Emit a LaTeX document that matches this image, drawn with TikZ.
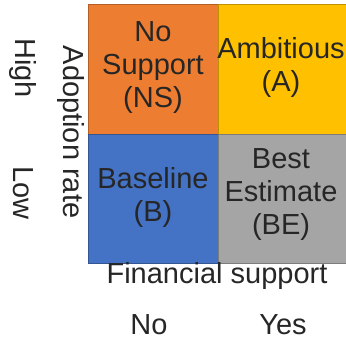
\documentclass[tikz,border=0pt]{standalone}
\usepackage{fontspec}
\setmainfont{Liberation Sans}
\usetikzlibrary{positioning}
\definecolor{sorange}{HTML}{ED7D31}
\definecolor{syellow}{HTML}{FFC000}
\definecolor{sblue}{HTML}{4472C4}
\definecolor{sgray}{HTML}{A5A5A5}
\tikzset{
	kotak/.style={line width=0.8pt},
	teks/.style={text=black!85,font=\fontsize{29}{33}\selectfont,align=center,inner sep=0pt},
}

\begin{document}
\begin{tikzpicture}[x=1pt,y=-1pt]

\useasboundingbox (0,0) rectangle (346,342);

% sudut-sudut matriks
\coordinate (TL) at (88,4);
\coordinate (TM) at (218,4);
\coordinate (ML) at (88,134);
\coordinate (MM) at (218,134);
\coordinate (MR) at (346,134);
\coordinate (BM) at (218,263);
\coordinate (BR) at (346,263);

% kotak-kotak skenario
\draw[kotak,fill=sorange,draw=sorange!75!black] (TL) rectangle (MM);
\draw[kotak,fill=syellow,draw=syellow!75!black] (TM) rectangle (MR);
\draw[kotak,fill=sblue,draw=sblue!75!black] (ML) rectangle (BM);
\draw[kotak,fill=sgray,draw=sgray!75!black] (MM) rectangle (BR);

% label skenario
\node[teks] (NS) at (153,68) {No\\Support\\(NS)};
\node[teks] (A) at (281,67) {Ambitious\\(A)};
\node[teks] (B) at (153,197) {Baseline\\(B)};
\node[teks] (BE) at (281,195) {Best\\Estimate\\(BE)};

% sumbu mendatar
\node[teks] (fin) at (217,276) {Financial support};
\node[teks] (no) at (149,325) {No};
\node[teks] (yes) at (283,325) {Yes};

% sumbu tegak
\node[teks,rotate=-90] (adopt) at (71,132) {Adoption rate};
\node[teks,rotate=-90] (high) at (23,68) {High};
\node[teks,rotate=-90] (low) at (23,193) {Low};

\end{tikzpicture}
\end{document}
